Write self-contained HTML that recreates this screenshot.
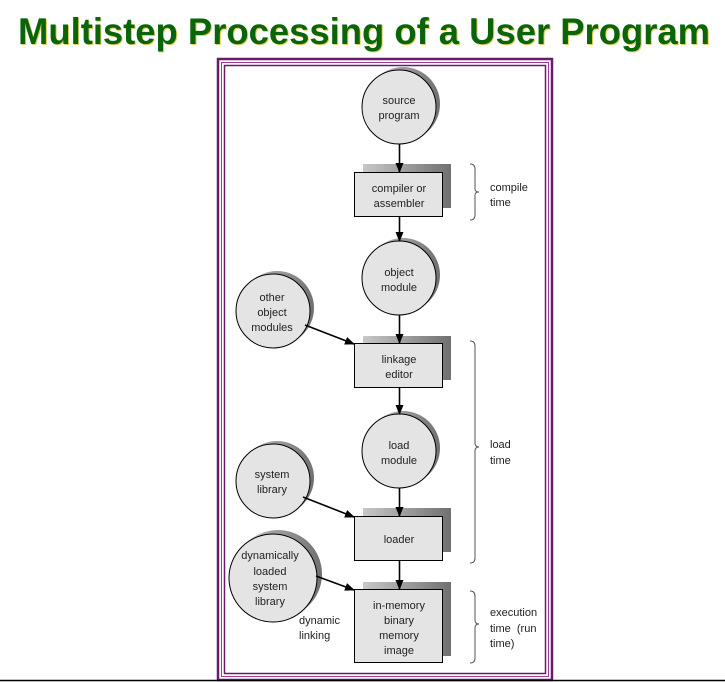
<!DOCTYPE html>
<html><head><style>
html,body{margin:0;padding:0;background:#fff;width:725px;height:682px;overflow:hidden}
svg{display:block}
text{font-family:"Liberation Sans",Arial,sans-serif}
</style></head><body>
<svg width="725" height="682" viewBox="0 0 725 682" xmlns="http://www.w3.org/2000/svg">
<defs>
<linearGradient id="sh" x1="0" y1="0" x2="1" y2="0"><stop offset="0" stop-color="#c8c8c8"/><stop offset="1" stop-color="#707070"/></linearGradient>
<marker id="ar" markerWidth="10" markerHeight="10" refX="9" refY="5" orient="auto" markerUnits="userSpaceOnUse"><path d="M0,1 L10,5 L0,9 z" fill="#000"/></marker>
</defs>
<text x="19" y="45" textLength="692" lengthAdjust="spacingAndGlyphs" font-size="37" font-weight="bold" fill="#e0d060">Multistep Processing of a User Program</text>
<text x="18" y="44" textLength="692" lengthAdjust="spacingAndGlyphs" font-size="37" font-weight="bold" fill="#0a640a">Multistep Processing of a User Program</text>
<!-- frame -->
<rect x="218" y="59" width="334" height="621" fill="none" stroke="#6b1a6b" stroke-width="2.5"/>
<rect x="221.5" y="62.5" width="327" height="614" fill="none" stroke="#9a3c9a" stroke-width="1"/>
<rect x="224.5" y="65.5" width="321" height="608" fill="none" stroke="#6b1a6b" stroke-width="1.5"/>
<line x1="0" y1="680.5" x2="725" y2="680.5" stroke="#000" stroke-width="1.5"/>
<g stroke="#000" stroke-width="1">
<g>
<circle cx="403" cy="104" r="37" fill="url(#sh)" stroke="none"/>
<circle cx="399" cy="107" r="37" fill="#e4e4e4"/>
<circle cx="403" cy="275" r="37" fill="url(#sh)" stroke="none"/>
<circle cx="399" cy="278" r="37" fill="#e4e4e4"/>
<circle cx="277" cy="308" r="37" fill="url(#sh)" stroke="none"/>
<circle cx="273" cy="311" r="37" fill="#e4e4e4"/>
<circle cx="403" cy="448" r="37" fill="url(#sh)" stroke="none"/>
<circle cx="399" cy="451" r="37" fill="#e4e4e4"/>
<circle cx="277" cy="478" r="37" fill="url(#sh)" stroke="none"/>
<circle cx="273" cy="481" r="37" fill="#e4e4e4"/>
<circle cx="278" cy="574" r="44" fill="url(#sh)" stroke="none"/>
<circle cx="273" cy="578" r="44" fill="#e4e4e4"/>
</g>
<rect x="363" y="164" width="88" height="44" fill="url(#sh)" stroke="none"/>
<rect x="354.5" y="172.5" width="88" height="44" fill="#e4e4e4"/>
<rect x="363" y="336" width="88" height="44" fill="url(#sh)" stroke="none"/>
<rect x="354.5" y="343.5" width="88" height="44" fill="#e4e4e4"/>
<rect x="363" y="508" width="88" height="44" fill="url(#sh)" stroke="none"/>
<rect x="354.5" y="516.5" width="88" height="44" fill="#e4e4e4"/>
<rect x="363" y="582" width="88" height="74" fill="url(#sh)" stroke="none"/>
<rect x="354.5" y="589.5" width="88" height="73" fill="#e4e4e4"/>
<g stroke-width="1.6" marker-end="url(#ar)">
<line x1="399.5" y1="144" x2="399.5" y2="172"/>
<line x1="399.5" y1="217" x2="399.5" y2="241"/>
<line x1="399.5" y1="315" x2="399.5" y2="343"/>
<line x1="399.5" y1="388" x2="399.5" y2="414"/>
<line x1="399.5" y1="488" x2="399.5" y2="516"/>
<line x1="399.5" y1="561" x2="399.5" y2="589"/>
<line x1="305" y1="325" x2="354" y2="344"/>
<line x1="303" y1="497" x2="354" y2="517"/>
<line x1="316" y1="576" x2="354" y2="590"/>
</g>
<g fill="none" stroke="#555" stroke-width="1">
<path d="M470,164 q5,0 5,5 v20 q0,3 4,3 q-4,0 -4,3 v20 q0,5 -5,5"/>
<path d="M470,341 q5,0 5,5 v97 q0,4 4,4 q-4,0 -4,4 v107 q0,5 -5,5"/>
<path d="M470,591 q5,0 5,5 v24 q0,4 4,4 q-4,0 -4,4 v30 q0,5 -5,5"/>
</g>
</g>
<g font-size="11" fill="#222" text-anchor="middle">
<text x="399" y="104">source</text><text x="399" y="119">program</text>
<text x="399" y="192">compiler or</text><text x="399" y="207">assembler</text>
<text x="399" y="276">object</text><text x="399" y="291">module</text>
<text x="272" y="301">other</text><text x="272" y="316">object</text><text x="272" y="331">modules</text>
<text x="399" y="363">linkage</text><text x="399" y="378">editor</text>
<text x="399" y="449">load</text><text x="399" y="464">module</text>
<text x="272" y="478">system</text><text x="272" y="493">library</text>
<text x="399" y="543">loader</text>
<text x="270" y="559">dynamically</text><text x="270" y="575">loaded</text><text x="270" y="590">system</text><text x="270" y="605">library</text>
<text x="399" y="609">in-memory</text><text x="399" y="624">binary</text><text x="399" y="639">memory</text><text x="399" y="654">image</text>
</g>
<g font-size="11" fill="#222">
<text x="299" y="624">dynamic</text><text x="299" y="639">linking</text>
<text x="490" y="191">compile</text><text x="490" y="206">time</text>
<text x="490" y="448">load</text><text x="490" y="464">time</text>
<text x="490" y="616">execution</text><text x="490" y="632" xml:space="preserve">time  (run</text><text x="490" y="647">time)</text>
</g>
</svg>
</body></html>
